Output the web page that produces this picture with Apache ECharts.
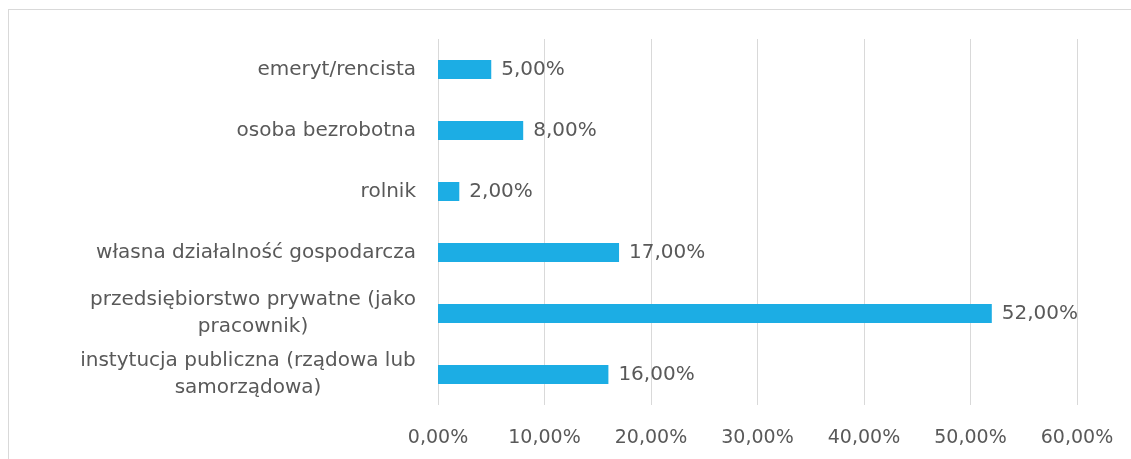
<!DOCTYPE html>
<html>
<head>
<meta charset="utf-8">
<script src="https://cdn.jsdelivr.net/npm/echarts@6/dist/echarts.min.js"></script>
<style>
  html, body { margin: 0; padding: 0; background: #fff; }
  #frame { position: absolute; left: 8px; top: 9px; width: 1200px; height: 500px; border: 1px solid #d9d9d9; }
  #chart { position: absolute; left: 0; top: 0; width: 1131px; height: 459px; }
</style>
</head>
<body>
<div id="frame"></div>
<div id="chart"></div>
<script>
// categories bottom -> top (as in the category axis)
var categories = [
  'instytucja publiczna (rządowa lub\nsamorządowa)',
  'przedsiębiorstwo prywatne (jako\npracownik)',
  'własna działalność gospodarcza',
  'rolnik',
  'osoba bezrobotna',
  'emeryt/rencista'
]
var shares = [16, 52, 17, 2, 8, 5]
var axisTicks = [0, 10, 20, 30, 40, 50, 60]

var fontFamily = '"Century Gothic", "DejaVu Sans", sans-serif'
var textColor = '#595959'
var labelSize = 20

function pct(v) {
  return v.toFixed(2).replace('.', ',') + '%'
}

// multi-line category labels: lines centred inside a block as wide as the longest line
var ctx = document.createElement('canvas').getContext('2d')
ctx.font = labelSize + 'px ' + fontFamily
var rich = {}
categories.forEach(function (c, i) {
  if (c.indexOf('\n') < 0) return
  var w = Math.max.apply(null, c.split('\n').map(function (s) { return ctx.measureText(s).width }))
  rich['c' + i] = {
    width: Math.ceil(w),
    align: 'center',
    color: textColor,
    fontFamily: fontFamily,
    fontSize: labelSize,
    lineHeight: 27
  }
})

var chart = echarts.init(document.getElementById('chart'))
chart.setOption({
  backgroundColor: 'transparent',
  animation: false,
  grid: {
    left: 438,
    right: 54,
    top: 39,
    bottom: 54
  },
  xAxis: {
    type: 'value',
    min: axisTicks[0],
    max: axisTicks[axisTicks.length - 1],
    interval: 10,
    axisLine: { show: false },
    axisTick: { show: false },
    splitLine: { show: true, lineStyle: { color: '#d9d9d9', width: 1 } },
    axisLabel: {
      margin: 24,
      color: textColor,
      fontFamily: fontFamily,
      fontSize: 19,
      formatter: function (v) { return pct(v) }
    }
  },
  yAxis: {
    type: 'category',
    data: categories,
    axisLine: { show: false },
    axisTick: { show: false },
    axisLabel: {
      margin: 22,
      color: textColor,
      fontFamily: fontFamily,
      fontSize: labelSize,
      lineHeight: 27,
      formatter: function (v, i) {
        if (v.indexOf('\n') < 0) return v
        return v.split('\n').map(function (s) { return '{c' + i + '|' + s + '}' }).join('\n')
      },
      rich: rich
    }
  },
  series: [{
    type: 'bar',
    data: shares,
    barWidth: 19,
    itemStyle: { color: '#1cade4' },
    label: {
      show: true,
      position: 'right',
      distance: 10,
      color: textColor,
      fontFamily: fontFamily,
      fontSize: labelSize,
      formatter: function (p) { return pct(p.value) }
    }
  }]
})
</script>
</body>
</html>
